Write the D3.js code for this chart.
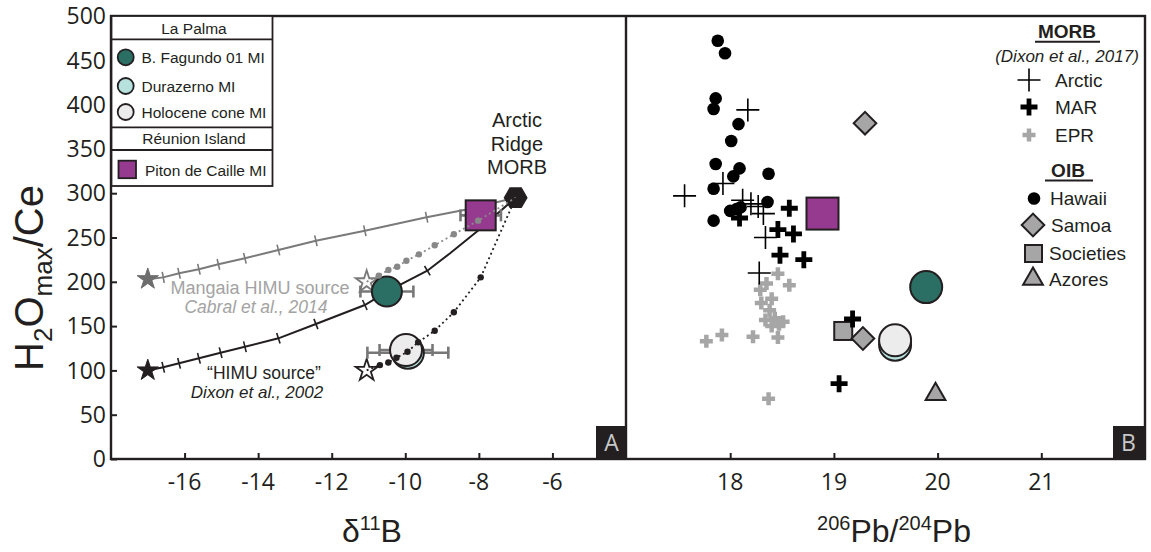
<!DOCTYPE html>
<html><head><meta charset="utf-8">
<script src="https://cdn.jsdelivr.net/npm/d3@7"></script>
<style>body{margin:0;background:#fff}svg{display:block}text{font-family:"Liberation Sans",Arial,sans-serif;fill:#231f20}</style>
</head><body><svg id="c" width="1151" height="552"></svg>
<script>
// ---------- data ----------
const yTickVals = [0,50,100,150,200,250,300,350,400,450,500];
const bTickVals = [-16,-14,-12,-10,-8,-6];
const pbTickVals = [18,19,20,21];

// mixing curves (d11B, H2O/Ce)
const mangaiaCurve = [[-17,203],[-16.58,205],[-16.15,209.6],[-15.61,214.1],[-15.08,219.7],[-14.36,226.5],[-13.45,235.9],[-12.43,246.4],[-11.10,257.7],[-9.42,272.8],[-8.3,282],[-7,295]];
const mangaiaMarks = [[-16.58,205],[-16.15,209.6],[-15.61,214.1],[-15.08,219.7],[-14.36,226.5],[-13.45,235.9],[-12.43,246.4],[-11.10,257.7],[-9.42,272.8]];
const himuCurve = [[-17,100],[-16.58,103.5],[-16.15,108],[-15.61,113.7],[-15.02,120],[-14.36,126.7],[-13.45,136.2],[-12.43,152.4],[-11.10,173.8],[-10.5,189],[-9.40,212.5],[-8.79,232],[-8.06,256.5],[-7,295]];
const himuMarks = [[-16.58,103.5],[-16.15,108],[-15.61,113.7],[-15.02,120],[-14.36,126.7],[-13.45,136.2],[-12.43,152.4],[-11.10,173.8],[-9.40,212.5]];
const mangaiaDotCurve = [[-11.05,200],[-10.72,207],[-10.46,213.3],[-10.22,217],[-9.97,223.8],[-9.63,231],[-9.20,241.2],[-8.68,253.6],[-8.02,269],[-7,295]];
const mangaiaDots = [[-10.72,207],[-10.46,213.3],[-10.22,217],[-9.97,223.8],[-9.63,231],[-9.20,241.2],[-8.68,253.6],[-8.02,269]];
const himuDotCurve = [[-11.05,100],[-10.69,106],[-10.46,109],[-10.24,114.3],[-9.94,121],[-9.65,131.7],[-9.20,144.8],[-8.68,165.6],[-7.95,205],[-7,295]];
const himuDots = [[-10.69,106],[-10.46,109],[-10.24,114.3],[-9.94,121],[-9.65,131.7],[-9.20,144.8],[-8.68,165.6],[-7.95,205]];

// end members
const arcticMorb = [-7, 295];
const filledStars = [[-17,203,"#6d6d6d"],[-17,100,"#231f20"]];
const openStars = [[-11.05,200,"#7a7a7a"],[-11.05,100,"#231f20"]];

// melt-inclusion samples
const sampleNames = ["Durazerno MI","Holocene cone MI","B. Fagundo 01 MI","Piton de Caille MI"];
const sampleColors = ["#b6e1dc","#ececec","#2b6e63","#963a8f"];
const sampleD11B = [-9.93,-9.98,-10.5,-7.95];
const sampleD11BErr = [1.1,0.72,0.72,0.55];
const sampleRatioA = [120,123,189,275];
const samplePb = [19.59,19.59,19.89,18.89];
const sampleRatioB = [129,134,194,277];

// MORB & OIB compilation (206Pb/204Pb, H2O/Ce)
const hawaiiPb = [17.88,17.95,17.86,17.84,18.08,18.01,17.86,18.09,18.03,18.37,17.84,18.36,18.06,18.00,18.10,17.84];
const hawaiiR  = [472,458,407,395,378,359,333,328,319,322,305,290,282,280,284,269];
const eprPb = [18.46,18.57,18.35,18.29,18.40,18.30,18.38,18.34,18.43,18.51,18.40,18.46,18.22,17.92,17.77,18.37,18.47];
const eprR  = [209,196,198,191,181,176,168,157,159,155,150,137,138,140,133,68,152];
const arcticPb = [17.56,18.17,17.93,18.12,18.20,18.27,18.32,18.34,18.28];
const arcticR  = [297,394,311,292,288,285,277,250,210];
const marPb = [18.57,18.09,18.46,18.61,18.48,18.71,19.18,19.05];
const marR  = [283,272,259,254,230,225,158,85];
const samoaPb = [19.30,19.28];
const samoaR  = [379,136];
const societiesPb = [19.09];
const societiesR  = [144.5];
const azoresPb = [19.98];
const azoresR  = [72];

// ---------- drawing ----------
const svg = d3.select("#c");
const INK = "#231f20", GRAY = "#a6a6a6";
const x1 = d3.scaleLinear([-18,-4],[111,626]);
const x2 = d3.scaleLinear([17,22],[626.5,1145]);
const y = d3.scaleLinear([0,500],[459,16]);

// axes (inward ticks)
const gy = svg.append("g").attr("transform","translate(111,0)")
  .call(d3.axisRight(y).tickValues(yTickVals).tickSize(6).tickFormat(""));
gy.select(".domain").remove();
gy.selectAll("line").attr("stroke",INK).attr("stroke-width",2);
svg.selectAll(".ylab").data(yTickVals).join("text")
  .attr("x",106).attr("y",d=>y(d)).attr("dy","0.36em").attr("text-anchor","end")
  .style("font-family","'Open Sans',sans-serif").style("font-size","23px").text(d=>d);

const gx1 = svg.append("g").attr("transform","translate(0,459)")
  .call(d3.axisTop(x1).tickValues(bTickVals).tickSize(6).tickFormat(""));
gx1.select(".domain").remove();
gx1.selectAll("line").attr("stroke",INK).attr("stroke-width",2);
svg.selectAll(".xlab1").data(bTickVals).join("text")
  .attr("x",d=>x1(d)).attr("y",490).attr("text-anchor","middle")
  .style("font-family","'Open Sans',sans-serif").style("font-size","23px").text(d=>d);

const gx2 = svg.append("g").attr("transform","translate(0,459)")
  .call(d3.axisTop(x2).tickValues(pbTickVals).tickSize(6).tickFormat(""));
gx2.select(".domain").remove();
gx2.selectAll("line").attr("stroke",INK).attr("stroke-width",2);
svg.selectAll(".xlab2").data(pbTickVals).join("text")
  .attr("x",d=>x2(d)).attr("y",490).attr("text-anchor","middle")
  .style("font-family","'Open Sans',sans-serif").style("font-size","23px").text(d=>d);

// axis titles
const yt = svg.append("text").attr("transform","translate(43,278) rotate(-90)")
  .attr("text-anchor","middle").style("font-size","40px");
yt.append("tspan").text("H");
yt.append("tspan").text("2").style("font-size","26px").attr("dy",9);
yt.append("tspan").text("O").attr("dy",-9);
yt.append("tspan").text("max").style("font-size","26px").attr("dy",9);
yt.append("tspan").text("/Ce").attr("dy",-9);

const xt1 = svg.append("text").attr("x",372).attr("y",542).attr("text-anchor","middle").style("font-size","32px");
xt1.append("tspan").text("δ");
xt1.append("tspan").text("11").style("font-size","20px").attr("dy",-12);
xt1.append("tspan").text("B").attr("dy",12);

const xt2 = svg.append("text").attr("x",894).attr("y",542).attr("text-anchor","middle").style("font-size","32px");
xt2.append("tspan").text("206").style("font-size","20px").attr("dy",-12);
xt2.append("tspan").text("Pb/").attr("dy",12);
xt2.append("tspan").text("204").style("font-size","20px").attr("dy",-12);
xt2.append("tspan").text("Pb").attr("dy",12);

// ----- panel A -----
const gA = svg.append("g");
const lineA = d3.line().x(d=>x1(d[0])).y(d=>y(d[1]));
function marks(g, pts, curve, color){
  pts.forEach(p=>{
    const i = curve.findIndex(c=>c[0]===p[0]&&c[1]===p[1]);
    const a = curve[Math.max(0,i-1)], b = curve[Math.min(curve.length-1,i+1)];
    const dx = x1(b[0])-x1(a[0]), dy = y(b[1])-y(a[1]);
    const L = Math.hypot(dx,dy), nx = -dy/L*5.5, ny = dx/L*5.5;
    const cx = x1(p[0]), cy = y(p[1]);
    g.append("line").attr("x1",cx-nx).attr("y1",cy-ny).attr("x2",cx+nx).attr("y2",cy+ny)
      .attr("stroke",color).attr("stroke-width",1.6);
  });
}
gA.append("path").attr("d",lineA(mangaiaCurve)).attr("fill","none").attr("stroke","#7a7a7a").attr("stroke-width",2);
marks(gA, mangaiaMarks, mangaiaCurve, "#7a7a7a");
gA.append("path").attr("d",lineA(himuCurve)).attr("fill","none").attr("stroke",INK).attr("stroke-width",2);
marks(gA, himuMarks, himuCurve, INK);

const star = d3.symbol().type(d3.symbolStar);
filledStars.forEach(s=>{
  gA.append("path").attr("d",star.size(140)()).attr("transform",`translate(${x1(s[0])},${y(s[1])})`)
    .attr("fill",s[2]).attr("stroke",s[2]).attr("stroke-width",1);
});
openStars.forEach(s=>{
  gA.append("path").attr("d",star.size(150)()).attr("transform",`translate(${x1(s[0])},${y(s[1])})`)
    .attr("fill","#fafafa").attr("stroke",s[2]).attr("stroke-width",1.8);
});

// error bars
sampleNames.forEach((n,i)=>{
  const cy = y(sampleRatioA[i]);
  const xa = x1(sampleD11B[i]-sampleD11BErr[i]), xb = x1(sampleD11B[i]+sampleD11BErr[i]);
  gA.append("line").attr("x1",xa).attr("x2",xb).attr("y1",cy).attr("y2",cy).attr("stroke","#777").attr("stroke-width",2.6);
  [xa,xb].forEach(xx=>gA.append("line").attr("x1",xx).attr("x2",xx).attr("y1",cy-6).attr("y2",cy+6).attr("stroke","#777").attr("stroke-width",2.6));
});
// hexagon (Arctic ridge MORB)
const hexR = 12;
const hex = d3.range(6).map(k=>[hexR*Math.cos(k*Math.PI/3), hexR*Math.sin(k*Math.PI/3)]);
gA.append("path").attr("d","M"+hex.join("L")+"Z").attr("transform",`translate(${x1(arcticMorb[0])},${y(arcticMorb[1])})`)
  .attr("fill",INK);

function sampleMark(g, i, cx, cy, big){
  if (sampleNames[i].startsWith("Piton")){
    const s = big?32:30;
    g.append("rect").attr("x",cx-s/2).attr("y",cy-s/2).attr("width",s).attr("height",s)
      .attr("fill",sampleColors[i]).attr("stroke",INK).attr("stroke-width",2);
  } else {
    const r = sampleNames[i].startsWith("B.") ? (big?16:15) : 16;
    g.append("circle").attr("cx",cx).attr("cy",cy).attr("r",r)
      .attr("fill",sampleColors[i]).attr("stroke",INK).attr("stroke-width",2);
  }
}
sampleNames.forEach((n,i)=>sampleMark(gA,i,x1(sampleD11B[i]),y(sampleRatioA[i]),false));

// dotted curves on top
gA.append("path").attr("d",lineA(mangaiaDotCurve)).attr("fill","none").attr("stroke","#888").attr("stroke-width",1.8).attr("stroke-dasharray","2,3");
gA.selectAll(".gd").data(mangaiaDots).join("circle").attr("cx",d=>x1(d[0])).attr("cy",d=>y(d[1])).attr("r",3.2).attr("fill","#888");
gA.append("path").attr("d",lineA(himuDotCurve)).attr("fill","none").attr("stroke",INK).attr("stroke-width",1.8).attr("stroke-dasharray","2,3");
gA.selectAll(".bd").data(himuDots).join("circle").attr("cx",d=>x1(d[0])).attr("cy",d=>y(d[1])).attr("r",3.2).attr("fill",INK);

// panel A labels
gA.append("text").attr("x",260).attr("y",294).attr("text-anchor","middle").style("font-size","18px").style("fill","#a3a3a3").text("Mangaia HIMU source");
gA.append("text").attr("x",256).attr("y",313).attr("text-anchor","middle").style("font-size","17.5px").style("font-style","italic").style("fill","#a3a3a3").text("Cabral et al., 2014");
gA.append("text").attr("x",264).attr("y",378.5).attr("text-anchor","middle").style("font-size","17.5px").text("\u201CHIMU source\u201D");
gA.append("text").attr("x",257).attr("y",398).attr("text-anchor","middle").style("font-size","17px").style("font-style","italic").text("Dixon et al., 2002");
["Arctic","Ridge","MORB"].forEach((t,k)=>gA.append("text").attr("x",517).attr("y",127+k*23.5).attr("text-anchor","middle").style("font-size","20px").text(t));

// ----- panel B -----
const gB = svg.append("g");
const crossPath = s => `M${-s},0H${s}M0,${-s}V${s}`;
gB.selectAll(".haw").data(hawaiiPb).join("circle").attr("cx",d=>x2(d)).attr("cy",(d,i)=>y(hawaiiR[i])).attr("r",6.3).attr("fill","#000");
gB.selectAll(".epr").data(eprPb).join("path").attr("d",crossPath(6.5)).attr("transform",(d,i)=>`translate(${x2(d)},${y(eprR[i])})`).attr("stroke",GRAY).attr("stroke-width",4.5).attr("fill","none");
gB.selectAll(".soc").data(societiesPb).join("rect").attr("x",d=>x2(d)-9).attr("y",(d,i)=>y(societiesR[i])-9).attr("width",18).attr("height",18).attr("fill",GRAY).attr("stroke",INK).attr("stroke-width",2);
gB.selectAll(".arc").data(arcticPb).join("path").attr("d",crossPath(11.5)).attr("transform",(d,i)=>`translate(${x2(d)},${y(arcticR[i])})`).attr("stroke","#000").attr("stroke-width",1.6).attr("fill","none");
gB.selectAll(".mar").data(marPb).join("path").attr("d",crossPath(8.5)).attr("transform",(d,i)=>`translate(${x2(d)},${y(marR[i])})`).attr("stroke","#000").attr("stroke-width",4.8).attr("fill","none");
gB.selectAll(".sam").data(samoaPb).join("rect").attr("x",-8).attr("y",-8).attr("width",16).attr("height",16).attr("transform",(d,i)=>`translate(${x2(d)},${y(samoaR[i])}) rotate(45)`).attr("fill",GRAY).attr("stroke",INK).attr("stroke-width",2);
const tri = d3.symbol().type(d3.symbolTriangle).size(170);
gB.selectAll(".azo").data(azoresPb).join("path").attr("d",tri()).attr("transform",(d,i)=>`translate(${x2(d)},${y(azoresR[i])-1})`).attr("fill",GRAY).attr("stroke",INK).attr("stroke-width",2);
sampleNames.forEach((n,i)=>sampleMark(gB,i,x2(samplePb[i]),y(sampleRatioB[i]),true));

// ----- frames -----
const fr = svg.append("g").attr("fill","none").attr("stroke",INK).attr("stroke-width",2.4);
fr.append("rect").attr("x",111).attr("y",16).attr("width",1034).attr("height",443);
fr.append("line").attr("x1",626).attr("x2",626).attr("y1",16).attr("y2",459);

// panel letters
[["A",596],["B",1113]].forEach(([t,xx])=>{
  svg.append("rect").attr("x",xx).attr("y",426).attr("width",31).attr("height",33).attr("fill",INK);
  svg.append("text").attr("x",xx+15.5).attr("y",451).attr("text-anchor","middle").style("font-family","'Open Sans',sans-serif").style("font-size","23px").style("fill","#c8c8c8").text(t);
});

// ----- legend A -----
const lg = svg.append("g");
const lx0 = 111.5, lx1 = 272.5;
const rows = [16,39.3,127.3,150,186];
lg.append("rect").attr("x",lx0).attr("y",rows[0]).attr("width",lx1-lx0).attr("height",rows[4]-rows[0]).attr("fill","#fff").attr("stroke",INK).attr("stroke-width",1.8);
rows.slice(1,4).forEach(r=>lg.append("line").attr("x1",lx0).attr("x2",lx1).attr("y1",r).attr("y2",r).attr("stroke",INK).attr("stroke-width",1.8));
lg.append("text").attr("x",194).attr("y",33.5).attr("text-anchor","middle").style("font-size","15.5px").text("La Palma");
lg.append("text").attr("x",194).attr("y",144).attr("text-anchor","middle").style("font-size","15.5px").text("Réunion Island");
const legOrder = [2,0,1];
legOrder.forEach((si,k)=>{
  const cy = [57.3,86,112][k];
  lg.append("circle").attr("cx",125.7).attr("cy",cy).attr("r",8).attr("fill",sampleColors[si]).attr("stroke",INK).attr("stroke-width",1.8);
  lg.append("text").attr("x",141.5).attr("y",cy+5.5).style("font-size","15.5px").text(sampleNames[si]);
});
lg.append("rect").attr("x",118.5).attr("y",160.7).attr("width",17.5).attr("height",17.5).attr("fill",sampleColors[3]).attr("stroke",INK).attr("stroke-width",1.8);
lg.append("text").attr("x",145).attr("y",175.5).style("font-size","15.5px").text(sampleNames[3]);

// ----- legend B -----
const lb = svg.append("g");
lb.append("text").attr("x",1067).attr("y",37.5).attr("text-anchor","middle").style("font-size","19px").style("font-weight","bold").text("MORB");
lb.append("line").attr("x1",1035).attr("x2",1100).attr("y1",41.7).attr("y2",41.7).attr("stroke",INK).attr("stroke-width",2);
lb.append("text").attr("x",1067).attr("y",61.5).attr("text-anchor","middle").style("font-size","17px").style("font-style","italic").text("(Dixon et al., 2017)");
lb.append("path").attr("d",crossPath(11.5)).attr("transform","translate(1029,80)").attr("stroke","#000").attr("stroke-width",1.6);
lb.append("text").attr("x",1055).attr("y",86.5).style("font-size","19px").text("Arctic");
lb.append("path").attr("d",crossPath(8.5)).attr("transform","translate(1029,107)").attr("stroke","#000").attr("stroke-width",4.8);
lb.append("text").attr("x",1055).attr("y",113.5).style("font-size","19px").text("MAR");
lb.append("path").attr("d",crossPath(6.5)).attr("transform","translate(1029,135)").attr("stroke",GRAY).attr("stroke-width",4.5);
lb.append("text").attr("x",1055).attr("y",141.5).style("font-size","19px").text("EPR");
lb.append("text").attr("x",1068).attr("y",177).attr("text-anchor","middle").style("font-size","19px").style("font-weight","bold").text("OIB");
lb.append("line").attr("x1",1045).attr("x2",1093).attr("y1",180.5).attr("y2",180.5).attr("stroke",INK).attr("stroke-width",2);
lb.append("circle").attr("cx",1034).attr("cy",198.5).attr("r",6.3).attr("fill","#000");
lb.append("text").attr("x",1050).attr("y",205).style("font-size","19px").text("Hawaii");
lb.append("rect").attr("x",-8).attr("y",-8).attr("width",16).attr("height",16).attr("transform","translate(1033,225) rotate(45)").attr("fill",GRAY).attr("stroke",INK).attr("stroke-width",2);
lb.append("text").attr("x",1051).attr("y",231.5).style("font-size","19px").text("Samoa");
lb.append("rect").attr("x",1025).attr("y",245).attr("width",17).attr("height",17).attr("fill",GRAY).attr("stroke",INK).attr("stroke-width",2);
lb.append("text").attr("x",1049).attr("y",260).style("font-size","19px").text("Societies");
lb.append("path").attr("d",tri()).attr("transform","translate(1033,279)").attr("fill",GRAY).attr("stroke",INK).attr("stroke-width",2);
lb.append("text").attr("x",1049).attr("y",286).style("font-size","19px").text("Azores");
</script></body></html>
